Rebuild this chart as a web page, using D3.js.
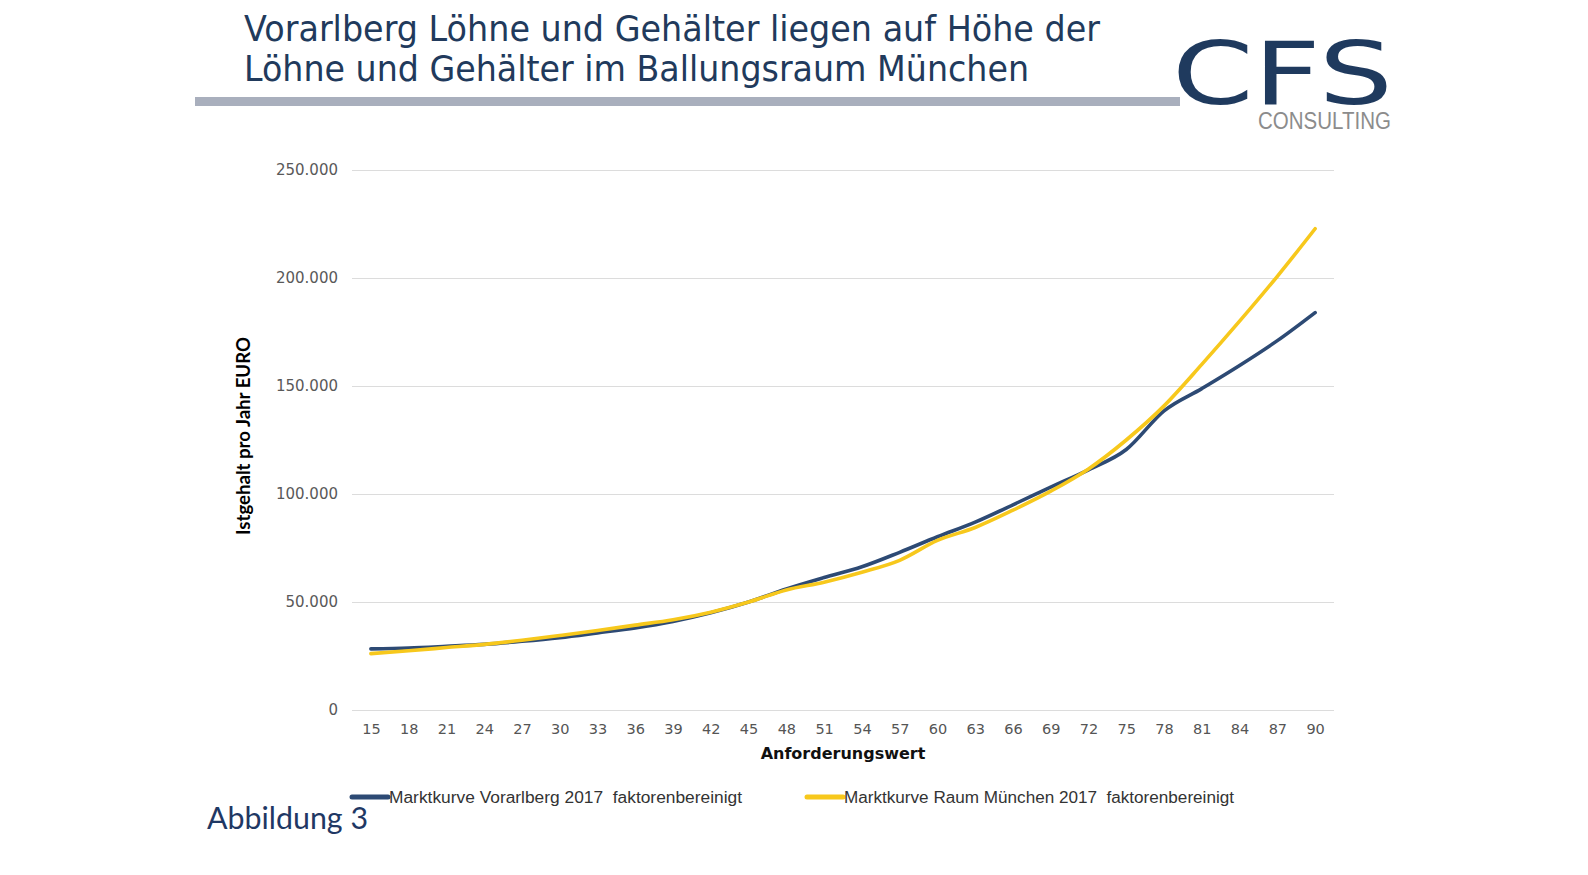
<!DOCTYPE html>
<html>
<head>
<meta charset="utf-8">
<script src="https://cdn.jsdelivr.net/npm/d3@7"></script>
<style>
  body { margin: 0; background: #fff; }
  svg { display: block; }
</style>
</head>
<body>
<svg id="chart" width="1588" height="875"></svg>
<script>
// Anforderungswert (x categories)
let anforderung = [15, 18, 21, 24, 27, 30, 33, 36, 39, 42, 45, 48, 51, 54, 57, 60, 63, 66, 69, 72, 75, 78, 81, 84, 87, 90];

// Istgehalt pro Jahr in EURO
let vorarlberg = [28300, 28700, 29500, 30400, 31800, 33500, 35700, 38000, 41000, 45000, 50000, 56000, 61300,
    66300, 73000, 80200, 87000, 95000, 103200, 111200, 120600, 138500, 148800, 159500, 171000, 184000];
let muenchen = [26100, 27400, 28900, 30400, 32300, 34500, 36800, 39300, 41800, 45300, 50000, 55600, 59200,
    63800, 69300, 78500, 84500, 92500, 101300, 111600, 125000, 140800, 160000, 180000, 200800, 222800];

let yTicks = [0, 50000, 100000, 150000, 200000, 250000];
let seriesNames = ['Marktkurve Vorarlberg 2017  faktorenbereinigt', 'Marktkurve Raum München 2017  faktorenbereinigt'];
let seriesColors = ['#2d4a74', '#f7c81c'];

let titleLines = ['Vorarlberg Löhne und Gehälter liegen auf Höhe der', 'Löhne und Gehälter im Ballungsraum München'];

let svg = d3.select('#chart');
let margin = {top: 170, right: 254, bottom: 165, left: 352};
let width = 1588, height = 875;

// header: title, grey bar, logo
svg.append('rect')
    .attr('x', 195).attr('y', 97)
    .attr('width', 985).attr('height', 9)
    .attr('fill', '#a9afbd');

svg.selectAll('text.title')
    .data(titleLines)
    .enter().append('text')
    .attr('class', 'title')
    .attr('x', 244)
    .attr('y', (d, i) => 41 + i * 40)
    .attr('textLength', (d, i) => i === 0 ? 856 : 785)
    .attr('lengthAdjust', 'spacingAndGlyphs')
    .style('font-family', 'DejaVu Sans, sans-serif')
    .style('font-size', '36px')
    .attr('fill', '#213a5c')
    .text(d => d);

svg.append('text')
    .attr('x', 1172).attr('y', 104)
    .attr('textLength', 221)
    .attr('lengthAdjust', 'spacingAndGlyphs')
    .style('font-family', 'DejaVu Sans, sans-serif')
    .style('font-size', '88px')
    .attr('fill', '#1f3a5e')
    .text('CFS');

svg.append('text')
    .attr('x', 1258).attr('y', 129)
    .attr('textLength', 133)
    .attr('lengthAdjust', 'spacingAndGlyphs')
    .style('font-family', 'Liberation Sans Narrow, Liberation Sans, sans-serif')
    .style('font-size', '23px')
    .attr('fill', '#8c8c8c')
    .text('CONSULTING');

// scales
let xScale = d3.scalePoint()
    .domain(anforderung)
    .range([margin.left, width - margin.right])
    .padding(0.5);

let yScale = d3.scaleLinear()
    .domain([0, 250000])
    .range([height - margin.bottom - 0, margin.top]);

let de = d3.formatLocale({decimal: ',', thousands: '.', grouping: [3], currency: ['', ' €']});

// gridlines + y axis labels
let yAxis = d3.axisLeft(yScale)
    .tickValues(yTicks)
    .tickSize(-(width - margin.right - margin.left))
    .tickPadding(14)
    .tickFormat(de.format(','));

let gy = svg.append('g')
    .attr('class', 'y axis')
    .attr('transform', `translate(${margin.left}, 0)`)
    .call(yAxis);
gy.select('.domain').remove();
gy.selectAll('line').attr('stroke', '#dcdcdc').attr('stroke-width', 1.2);
gy.selectAll('text')
    .style('font-family', 'DejaVu Sans, sans-serif')
    .style('font-size', '15px')
    .attr('fill', '#595959');

// x axis labels
let xAxis = d3.axisBottom(xScale).tickSize(0).tickPadding(14);
let gx = svg.append('g')
    .attr('class', 'x axis')
    .attr('transform', `translate(0, ${height - margin.bottom})`)
    .call(xAxis);
gx.select('.domain').remove();
gx.selectAll('text')
    .style('font-family', 'DejaVu Sans, sans-serif')
    .style('font-size', '14.5px')
    .attr('fill', '#555');

// axis titles
svg.append('text')
    .attr('x', (margin.left + width - margin.right) / 2)
    .attr('y', 759)
    .attr('text-anchor', 'middle')
    .style('font-family', 'DejaVu Sans, sans-serif')
    .style('font-size', '16px')
    .style('font-weight', 'bold')
    .attr('fill', '#111')
    .text('Anforderungswert');

svg.append('text')
    .attr('transform', 'translate(250, 436) rotate(-90)')
    .attr('text-anchor', 'middle')
    .attr('textLength', 198)
    .attr('lengthAdjust', 'spacingAndGlyphs')
    .style('font-family', 'Lato, Open Sans, sans-serif')
    .style('font-size', '18px')
    .style('font-weight', 'bold')
    .attr('fill', '#000')
    .text('Istgehalt pro Jahr EURO');

// lines
let line = d3.line()
    .x((d, i) => xScale(anforderung[i]))
    .y(d => yScale(d))
    .curve(d3.curveMonotoneX);

[vorarlberg, muenchen].forEach((values, i) => {
    svg.append('path')
        .datum(values)
        .attr('fill', 'none')
        .attr('stroke', seriesColors[i])
        .attr('stroke-width', 3.6)
        .attr('stroke-linejoin', 'round')
        .attr('stroke-linecap', 'round')
        .attr('d', line);
});

// legend
let legendX = [352, 807];
let legendLen = [353, 390];
seriesNames.forEach((name, i) => {
    svg.append('line')
        .attr('x1', legendX[i]).attr('x2', legendX[i] + 36)
        .attr('y1', 797).attr('y2', 797)
        .attr('stroke', seriesColors[i])
        .attr('stroke-width', 5)
        .attr('stroke-linecap', 'round');
    svg.append('text')
        .attr('x', legendX[i] + 37)
        .attr('y', 803)
        .attr('textLength', legendLen[i])
        .attr('lengthAdjust', 'spacingAndGlyphs')
        .attr('xml:space', 'preserve')
        .style('white-space', 'pre')
        .style('font-family', 'Liberation Sans Narrow, Liberation Sans, sans-serif')
        .style('font-size', '16px')
        .attr('fill', '#333')
        .text(name);
});

svg.append('text')
    .attr('x', 207).attr('y', 829)
    .attr('textLength', 161)
    .attr('lengthAdjust', 'spacingAndGlyphs')
    .style('font-family', 'Lato, Open Sans, sans-serif')
    .style('font-size', '30px')
    .attr('fill', '#1f3864')
    .text('Abbildung 3');
</script>
</body>
</html>
